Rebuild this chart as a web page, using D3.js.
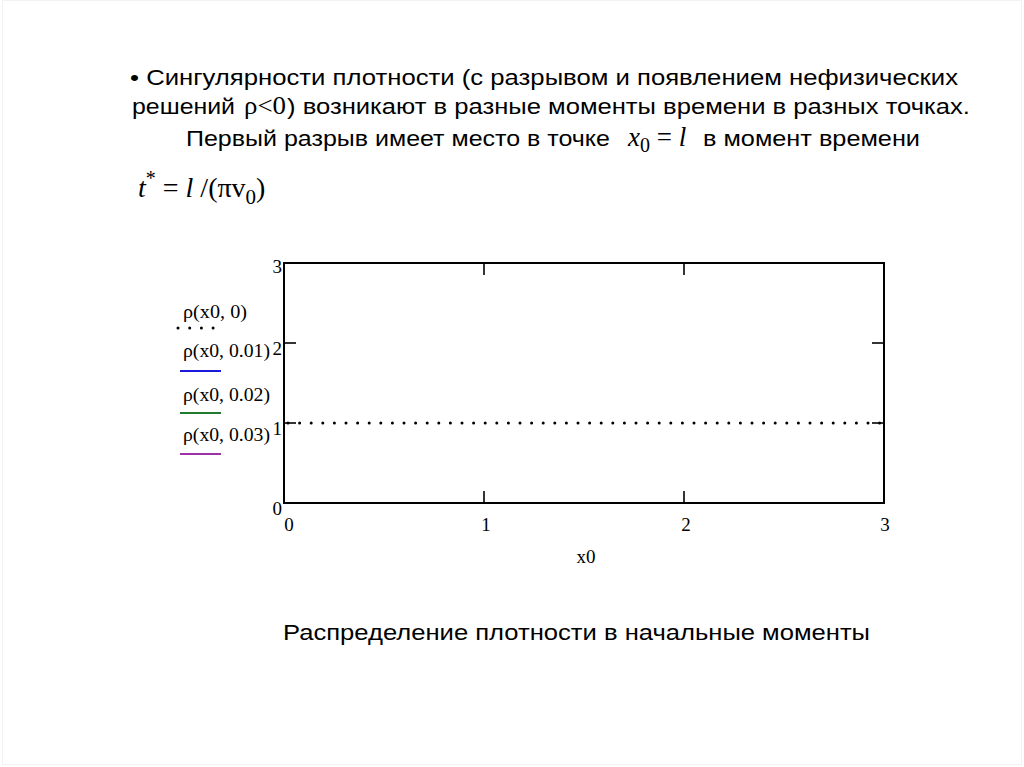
<!DOCTYPE html>
<html><head><meta charset="utf-8">
<script src="https://cdn.jsdelivr.net/npm/d3@7"></script>
<style>
html,body{margin:0;padding:0;background:#fff;}
svg{display:block;}
</style></head>
<body>
<svg id="c" width="1024" height="767"></svg>
<script>
// ---- data ----
const xTicks = [0, 1, 2, 3];
const yTicks = [0, 1, 2, 3];
const x0Values = [0, 0.5, 1, 1.5, 2, 2.5, 3];
const rhoT0 = [1, 1, 1, 1, 1, 1, 1];
const legendLabels = ["ρ(x0, 0)", "ρ(x0, 0.01)", "ρ(x0, 0.02)", "ρ(x0, 0.03)"];
const legendColors = ["#000000", "#1a1adc", "#1f7a2e", "#a030a8"];
const titleLine1 = "• Сингулярности плотности (с разрывом и появлением нефизических";
const titleLine2 = ["решений", "ρ<0", ") возникают в разные моменты времени в разных точках."];
const titleLine3 = ["Первый разрыв имеет место в точке", "в момент времени"];
const captionText = "Распределение плотности в начальные моменты";
const xAxisTitle = "x0";

(function(){
const svg = d3.select("#c");
svg.append("rect").attr("x",2.5).attr("y",0.5).attr("width",1019).attr("height",764)
  .attr("fill","none").attr("stroke","#f2f2f2").attr("stroke-width",1);

const sans = "'Liberation Sans', Arial, sans-serif";
const serif = "'Liberation Serif', 'Times New Roman', serif";

function stext(x, yb, str, len, fam, size) {
  return svg.append("text").attr("x",x).attr("y",yb)
    .attr("font-family",fam).attr("font-size",size)
    .attr("textLength",len).attr("lengthAdjust","spacingAndGlyphs").text(str);
}

// title
stext(130, 85, titleLine1, 828, sans, 22);
stext(132, 114, titleLine2[0], 103, sans, 22);
stext(244, 114, titleLine2[1], 42, serif, 25);
stext(287, 114, titleLine2[2], 683, sans, 22);
stext(186, 146, titleLine3[0], 424, sans, 22);
const xm = svg.append("text").attr("x",628).attr("y",146).attr("font-family",serif).attr("font-size",27);
xm.append("tspan").attr("font-style","italic").text("x");
xm.append("tspan").attr("font-size",20).attr("dy",6).text("0");
xm.append("tspan").attr("dy",-6).text(" = ");
xm.append("tspan").attr("font-style","italic").text("l");
stext(703, 146, titleLine3[1], 217, sans, 22);

// formula
const f = svg.append("text").attr("x",138).attr("y",197)
  .attr("font-family",serif).attr("font-size",28);
f.append("tspan").attr("font-style","italic").text("t");
f.append("tspan").attr("font-size",20).attr("dy",-12).text("*");
f.append("tspan").attr("dy",12).text(" = ");
f.append("tspan").attr("font-style","italic").text("l");
f.append("tspan").text(" /(πv");
f.append("tspan").attr("font-size",21).attr("dy",7).text("0");
f.append("tspan").attr("dy",-7).text(")");

// plot
const pL = 284, pR = 884, pT = 263, pB = 503;
const x = d3.scaleLinear().domain([0,3]).range([pL,pR]);
const y = d3.scaleLinear().domain([0,3]).range([pB,pT]);
const g = svg.append("g");
const tickLen = 12;
xTicks.filter(d => d>0 && d<3).forEach(d => {
  g.append("line").attr("x1",x(d)).attr("x2",x(d)).attr("y1",pB).attr("y2",pB-tickLen)
    .attr("stroke","#000").attr("stroke-width",1.6);
  g.append("line").attr("x1",x(d)).attr("x2",x(d)).attr("y1",pT).attr("y2",pT+tickLen)
    .attr("stroke","#000").attr("stroke-width",1.6);
});
yTicks.filter(d => d>0 && d<3).forEach(d => {
  g.append("line").attr("x1",pL).attr("x2",pL+tickLen).attr("y1",y(d)).attr("y2",y(d))
    .attr("stroke","#000").attr("stroke-width",1.6);
  g.append("line").attr("x1",pR).attr("x2",pR-tickLen).attr("y1",y(d)).attr("y2",y(d))
    .attr("stroke","#000").attr("stroke-width",1.6);
});
g.append("rect").attr("x",pL).attr("y",pT).attr("width",pR-pL).attr("height",pB-pT)
  .attr("fill","none").attr("stroke","#000").attr("stroke-width",2);

yTicks.forEach(d => {
  g.append("text").attr("x",pL-2).attr("y",y(d) + (d===3 ? 10 : 12)).attr("text-anchor","end")
    .attr("font-family",serif).attr("font-size",19).text(d);
});
xTicks.forEach(d => {
  g.append("text").attr("x", d===0 ? x(d)+5 : (d===3 ? x(d)+1 : x(d)+2)).attr("y",pB+28).attr("text-anchor","middle")
    .attr("font-family",serif).attr("font-size",19).text(d);
});
g.append("text").attr("x",586).attr("y",563).attr("text-anchor","middle")
  .attr("font-family",serif).attr("font-size",19).text(xAxisTitle);

// series rho(x0, 0) — dotted
const line = d3.line().x((d,i)=>x(x0Values[i])).y(d=>y(d));
g.append("path").datum(rhoT0).attr("d",line)
  .attr("fill","none").attr("stroke","#000").attr("stroke-width",3)
  .attr("stroke-linecap","round").attr("stroke-dasharray","0 11.6")
  .attr("transform","translate(4,0)");

// legend
const legTextY = [318, 357, 401, 441];
const legLens = [64, 87, 87, 87];
legendLabels.forEach((lab,i) => {
  g.append("text").attr("x",183).attr("y",legTextY[i])
    .attr("font-family",serif).attr("font-size",18)
    .attr("textLength",legLens[i]).attr("lengthAdjust","spacingAndGlyphs").text(lab);
});
const legLineY = [328, 371, 413, 454];
legLineY.forEach((ly,i) => {
  if (i===0) {
    g.append("line").attr("x1",178).attr("x2",215).attr("y1",ly).attr("y2",ly)
      .attr("stroke",legendColors[i]).attr("stroke-width",3).attr("stroke-linecap","round")
      .attr("stroke-dasharray","0 11.7");
  } else {
    g.append("line").attr("x1",180).attr("x2",221).attr("y1",ly).attr("y2",ly)
      .attr("stroke",legendColors[i]).attr("stroke-width",2);
  }
});

// caption
stext(283, 640, captionText, 587, sans, 22);
})();
</script>
</body></html>
